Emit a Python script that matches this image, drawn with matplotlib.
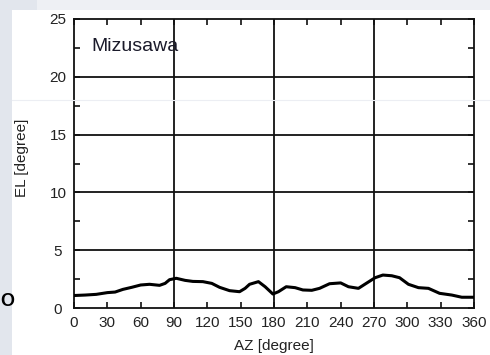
import matplotlib
matplotlib.use("Agg")
import matplotlib.pyplot as plt
from matplotlib.patches import Rectangle
from matplotlib.ticker import MultipleLocator

plt.rcParams['font.family'] = ['Liberation Sans', 'DejaVu Sans']

# Horizon profile (azimuth vs elevation)
az = [0, 10, 20, 30, 37, 44, 52, 60, 68, 77, 82, 86, 92, 100, 107, 116, 124,
      131, 140, 149, 154, 158, 166, 172, 179, 184, 191, 199, 206, 214, 221,
      230, 240, 247, 256, 263, 271, 278, 286, 293, 301, 310, 319, 329, 340,
      349, 360]
el = [1.08, 1.12, 1.18, 1.33, 1.38, 1.61, 1.79, 1.99, 2.05, 1.96, 2.13, 2.45,
      2.57, 2.39, 2.30, 2.28, 2.13, 1.79, 1.50, 1.41, 1.70, 2.05, 2.28, 1.84,
      1.21, 1.41, 1.84, 1.76, 1.56, 1.53, 1.70, 2.10, 2.17, 1.84, 1.70, 2.13,
      2.62, 2.85, 2.79, 2.62, 2.05, 1.76, 1.70, 1.27, 1.12, 0.93, 0.93]

x_ticks = [0, 30, 60, 90, 120, 150, 180, 210, 240, 270, 300, 330, 360]
y_ticks = [0, 5, 10, 15, 20, 25]
x_grid = [90, 180, 270]
y_grid = [5, 10, 15, 20]
station = "Mizusawa"
xlabel = "AZ [degree]"
ylabel = "EL [degree]"

W, H = 490, 355
fig = plt.figure(figsize=(W / 100, H / 100), dpi=100)
fig.patch.set_facecolor('white')

# page background strips
fig.patches.append(Rectangle((0, 0), 12 / W, 1, transform=fig.transFigure,
                             facecolor='#e2e6ed', edgecolor='none', zorder=0))
fig.patches.append(Rectangle((12 / W, 1 - 10 / H), 1, 10 / H, transform=fig.transFigure,
                             facecolor='#eef0f4', edgecolor='none', zorder=0))
fig.patches.append(Rectangle((12 / W, 1 - 10 / H), 25 / W, 10 / H, transform=fig.transFigure,
                             facecolor='#e2e6ed', edgecolor='none', zorder=0))
fig.lines.append(plt.Line2D([12 / W, 1], [1 - 100 / H, 1 - 100 / H], transform=fig.transFigure,
                            color='#eceef3', lw=0.8, zorder=0))

left, right, top, bottom = 74, 474, 19, 308
ax = fig.add_axes([left / W, 1 - bottom / H, (right - left) / W, (bottom - top) / H])
ax.set_xlim(0, 360)
ax.set_ylim(0, 25)

for g in x_grid:
    ax.axvline(g, color='#111111', lw=1.3, zorder=1)
for g in y_grid:
    ax.axhline(g, color='#111111', lw=1.3, zorder=1)

ax.plot(az, el, color='black', lw=2.2, solid_joinstyle='round', solid_capstyle='round', zorder=3)

for s in ax.spines.values():
    s.set_linewidth(1.3)
    s.set_color('#111111')

ax.set_xticks(x_ticks)
ax.set_yticks(y_ticks)
ax.set_xticklabels([str(v) for v in x_ticks])
ax.set_yticklabels([str(v) for v in y_ticks])
ax.yaxis.set_minor_locator(MultipleLocator(2.5))
ax.tick_params(axis='both', which='both', direction='in', top=True, right=True,
               length=4, width=1.2, color='#111111')
ax.tick_params(axis='x', labelsize=11, pad=6, labelcolor='#222222')
ax.tick_params(axis='y', labelsize=11, pad=11.5, labelcolor='#222222')
for lbl in ax.get_yticklabels():
    lbl.set_horizontalalignment('center')

ax.text(16, 22.6, station, fontsize=14, color='#1a1a2a', va='center', ha='left')

fig.text(274 / W, 1 - 346 / H, xlabel, fontsize=11, color='#222222', ha='center', va='center')
fig.text(22 / W, 1 - 158 / H, ylabel, fontsize=11, color='#222222', ha='center', va='center',
         rotation=90)
fig.text(0.5 / W, 1 - 302 / H, "O", fontsize=13, fontweight='bold', color='black',
         ha='left', va='center')

fig.savefig('out.png', dpi=100)
